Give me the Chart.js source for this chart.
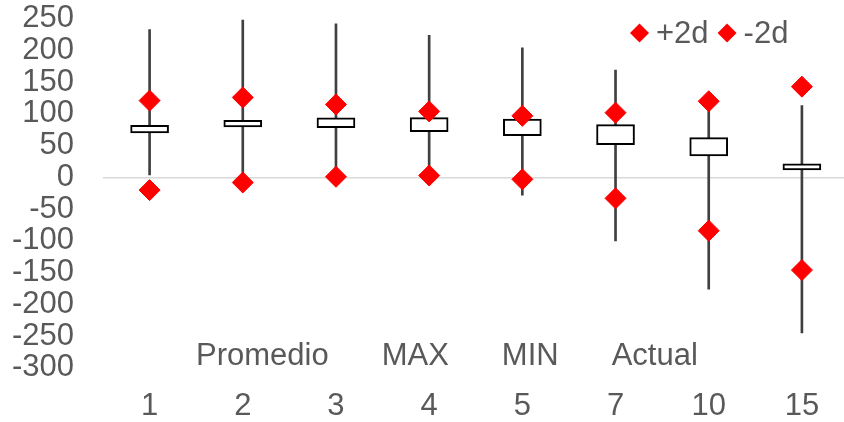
<!DOCTYPE html>
<html lang="es">
<head>
  <meta charset="utf-8">
  <title>Rango por plazo</title>
  <script src="https://cdn.jsdelivr.net/npm/chart.js@4.4.1/dist/chart.umd.min.js"></script>
  <style>
    html, body { margin: 0; padding: 0; background: #fff; overflow: hidden; }
    canvas { display: block; }
  </style>
</head>
<body>
<canvas id="chart" width="860" height="440"></canvas>

<script>
// plazos (eje X)
var labels   = ['1', '2', '3', '4', '5', '7', '10', '15'];
// series del grafico de cotizaciones
var promedio = [70, 79.5, 78.4, 72.1, 65.8, 51.7, 33.9, 11.8];
var maximo   = [233, 248, 242, 224, 204, 169, 115, 113];
var minimo   = [4, -5, 0, 0, -28, -100, -176, -245];
var actual   = [82.2, 90, 93.7, 94.2, 92.1, 83.1, 62.7, 21.3];
// bandas
var mas2d    = [121, 126, 115, 104, 97, 102, 120, 143];
var menos2d  = [-20, -8, 1, 3, -3, -33, -84, -146];
var yTicks   = { min: -300, max: 250, step: 50 };
var bottomLegend = ['Promedio', 'MAX', 'MIN', 'Actual'];

var textColor = '#595959';
var fontFamily = '"Liberation Sans", Arial, sans-serif';

// leyendas dibujadas sobre el area del grafico (como en Excel)
var legendPlugin = {
  id: 'legendas',
  afterDraw: function(chart) {
    var ctx = chart.ctx;
    ctx.save();
    ctx.font = '31px ' + fontFamily;
    ctx.fillStyle = textColor;
    ctx.textBaseline = 'middle';

    // +2d / -2d arriba a la derecha
    var x = 630, y = 33, r = 9.5;
    chart.data.datasets.forEach(function(ds) {
      if (ds.type !== 'line') return;
      ctx.fillStyle = ds.pointBackgroundColor;
      ctx.beginPath();
      ctx.moveTo(x, y);
      ctx.lineTo(x + r, y - r);
      ctx.lineTo(x + 2 * r, y);
      ctx.lineTo(x + r, y + r);
      ctx.closePath();
      ctx.fill();
      ctx.fillStyle = textColor;
      ctx.fillText(ds.label, x + 26, y + 1);
      x += 26 + ctx.measureText(ds.label).width + 9;
    });

    // Promedio / MAX / MIN / Actual abajo
    ctx.textBaseline = 'alphabetic';
    var bx = 196;
    bottomLegend.forEach(function(t) {
      ctx.fillText(t, bx, 365);
      bx += ctx.measureText(t).width + 53;
    });
    ctx.restore();
  }
};

new Chart(document.getElementById('chart'), {
  data: {
    labels: labels,
    datasets: [
      {
        type: 'bar',
        label: 'MAX-MIN',
        data: minimo.map(function(v, i) { return [v, maximo[i]]; }),
        backgroundColor: '#404040',
        barThickness: 2,
        grouped: false,
        order: 2
      },
      {
        type: 'bar',
        label: 'Promedio-Actual',
        data: promedio.map(function(v, i) { return [v, actual[i]]; }),
        backgroundColor: '#ffffff',
        borderColor: '#000000',
        borderWidth: 2,
        borderSkipped: false,
        barThickness: 38,
        grouped: false,
        order: 1
      },
      {
        type: 'line',
        label: '+2d',
        data: mas2d,
        showLine: false,
        pointStyle: 'rectRot',
        pointRadius: 10.5,
        pointBackgroundColor: '#ff0000',
        pointBorderColor: '#ff0000',
        pointBorderWidth: 1,
        order: 0
      },
      {
        type: 'line',
        label: '-2d',
        data: menos2d,
        showLine: false,
        pointStyle: 'rectRot',
        pointRadius: 10.5,
        pointBackgroundColor: '#ff0000',
        pointBorderColor: '#ff0000',
        pointBorderWidth: 1,
        order: 0
      }
    ]
  },
  options: {
    responsive: false,
    animation: false,
    layout: { padding: { left: 12, right: 8, top: 0, bottom: 15 } },
    plugins: {
      legend: { display: false },
      tooltip: { enabled: false }
    },
    scales: {
      x: {
        offset: true,
        grid: { display: false, drawTicks: false },
        border: { display: false },
        ticks: {
          color: textColor,
          padding: 20,
          font: { family: fontFamily, size: 31, lineHeight: 1.2 }
        },
        afterFit: function(s) { s.height = 57.2; }
      },
      y: {
        min: yTicks.min,
        max: yTicks.max,
        grid: {
          drawTicks: false,
          lineWidth: 1.5,
          color: function(c) { return c.tick && c.tick.value === 0 ? '#d9d9d9' : 'rgba(0,0,0,0)'; }
        },
        border: { display: false },
        ticks: {
          stepSize: yTicks.step,
          autoSkip: false,
          color: textColor,
          padding: 29,
          font: { family: fontFamily, size: 31, lineHeight: 1.2 },
          callback: function(v) { return String(v); }
        },
        afterFit: function(s) {
          s.width = 91;
          s.paddingTop = 18.75;
          s.paddingBottom = 18.6;
        }
      }
    }
  },
  plugins: [legendPlugin]
});
</script>
</body>
</html>
